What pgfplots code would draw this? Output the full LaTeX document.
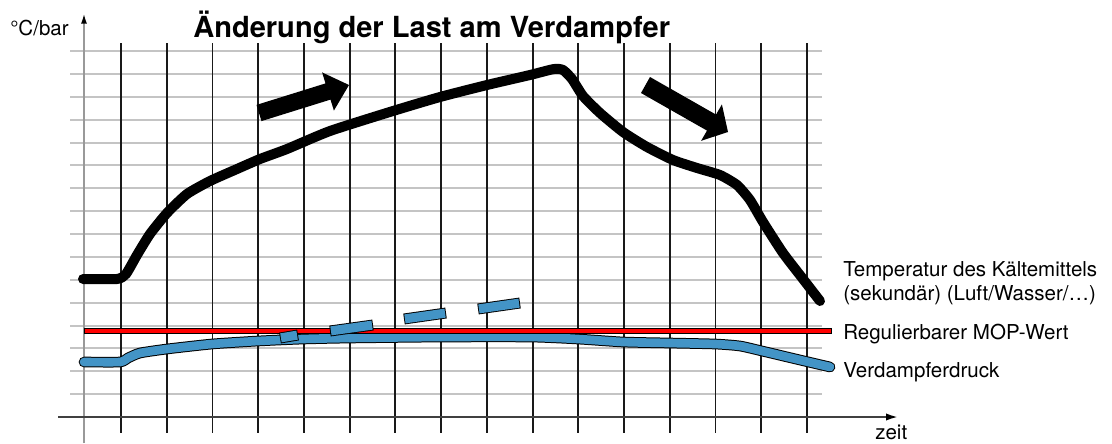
\documentclass[border=0pt]{standalone}
\usepackage{fontspec}
\setmainfont{TeX Gyre Heros}
\usepackage{pgfplots}
\usepackage{pgfplotstable}
\pgfplotsset{compat=1.18}
\usetikzlibrary{arrows.meta}
\definecolor{blueband}{RGB}{67,148,198}
\definecolor{gridgray}{RGB}{196,196,196}

% Temperatur des Kältemittels (px-like units: x = time, y downward)
\pgfplotstableread{
x y
83 279
117 279
126 274
137 255
150 234
167 213
187 194
210 181
237 169
260 159
287 149
330 131
393 111
440 97
487 85
530 75
554 69
563 70
572 79
583 96
600 113
623 132
647 147
673 160
697 168
720 175
737 185
750 200
763 222
783 253
803 279
820 301
}\temperature

% Verdampferdruck
\pgfplotstableread{
x y
84 362
120 362
128 358
140 353
167 349
212 344
258 341
303 339
349 338
440 337
531 337
578 339
623 342
669 343
715 344
740 346
762 351
800 360
830 367
}\pressure

\begin{document}
\begin{tikzpicture}[x=1pt,y=1pt]
\path[use as bounding box] (0,0) rectangle (834,332.25);
\begin{axis}[at={(0,0)}, anchor=south west, scale only axis,
  width=834pt, height=332.25pt,
  xmin=0, xmax=1112, ymin=0, ymax=443, y dir=reverse,
  hide axis, clip=false]

% horizontal grid
\pgfplotsinvokeforeach{51,73.9,96.8,119.6,142.5,165.4,188.3,211.1,234,256.9,279.8,302.6,325.5,348.4,371.3,394.1}{
  \draw[gridgray, line width=1.5pt] (axis cs:70,#1) -- (axis cs:822,#1);
}
% vertical grid
\pgfplotsinvokeforeach{121,166.7,212.5,258.2,303.9,349.7,395.4,441.1,486.8,532.6,578.3,624,669.8,715.5,761.2,807}{
  \draw[black!90, line width=1.4pt] (axis cs:#1,43) -- (axis cs:#1,433);
}
% axes
\draw[black!40, line width=1.5pt, -{Latex[length=8pt,width=4.5pt,color=black]}] (axis cs:84,443) -- (axis cs:84,13);
\draw[black!75, line width=1.5pt, -{Latex[length=9pt,width=5.5pt,color=black]}] (axis cs:58,417) -- (axis cs:898,417);

% temperature curve
\addplot[black, line width=7.5pt, line cap=round, line join=round, smooth, tension=0.35] table {\temperature};

% pressure band
\addplot[black, line width=8pt, line cap=round, line join=round, smooth, tension=0.35] table {\pressure};
\addplot[blueband, line width=6.5pt, line cap=round, line join=round, smooth, tension=0.35] table {\pressure};

% MOP line
\addplot[black, line width=4pt] coordinates {(84,331) (832,331)};
\addplot[red, line width=2.6pt, shorten <=0.7pt, shorten >=0.7pt] coordinates {(84,331) (832,331)};

% dashed rising pressure segments
\addplot[black, line width=8.2pt] coordinates {(280,338) (298,335)};
\addplot[blueband, line width=6.8pt, shorten <=0.7pt, shorten >=0.7pt] coordinates {(280,338) (298,335)};
\addplot[black, line width=8.2pt] coordinates {(330,331) (373,325)};
\addplot[blueband, line width=6.8pt, shorten <=0.7pt, shorten >=0.7pt] coordinates {(330,331) (373,325)};
\addplot[black, line width=8.2pt] coordinates {(404,319) (446,313)};
\addplot[blueband, line width=6.8pt, shorten <=0.7pt, shorten >=0.7pt] coordinates {(404,319) (446,313)};
\addplot[black, line width=8.2pt] coordinates {(478,309) (520,303)};
\addplot[blueband, line width=6.8pt, shorten <=0.7pt, shorten >=0.7pt] coordinates {(478,309) (520,303)};

% big arrows
\fill[black] (axis cs:256.5,104.9) -- (axis cs:325.5,83.4) -- (axis cs:322.1,72.4) -- (axis cs:349,85) -- (axis cs:333.9,110.6) -- (axis cs:330.5,99.6) -- (axis cs:261.5,121.1) -- cycle;
\fill[black] (axis cs:650,77) -- (axis cs:716,114.6) -- (axis cs:721.9,104.4) -- (axis cs:728,132) -- (axis cs:701.1,140.8) -- (axis cs:707,130.6) -- (axis cs:641,93) -- cycle;

% texts
\node[anchor=base west, inner sep=0pt, font=\fontsize{21.8pt}{26pt}\selectfont\bfseries] at (axis cs:193,37) {Änderung der Last am Verdampfer};
\node[anchor=base west, inner sep=0pt, font=\fontsize{15.4pt}{18pt}\selectfont] at (axis cs:10,35) {°C/bar};
\node[anchor=base west, inner sep=0pt, font=\fontsize{15.4pt}{18pt}\selectfont] at (axis cs:843,276) {Temperatur des Kältemittels};
\node[anchor=base west, inner sep=0pt, font=\fontsize{15.4pt}{18pt}\selectfont] at (axis cs:843,300) {(sekundär) (Luft/Wasser/…)};
\node[anchor=base west, inner sep=0pt, font=\fontsize{15.4pt}{18pt}\selectfont] at (axis cs:843,339) {Regulierbarer MOP-Wert};
\node[anchor=base west, inner sep=0pt, font=\fontsize{15.4pt}{18pt}\selectfont] at (axis cs:843,377) {Verdampferdruck};
\node[anchor=base west, inner sep=0pt, font=\fontsize{15.4pt}{18pt}\selectfont] at (axis cs:875,439.5) {zeit};
\end{axis}
\end{tikzpicture}
\end{document}
